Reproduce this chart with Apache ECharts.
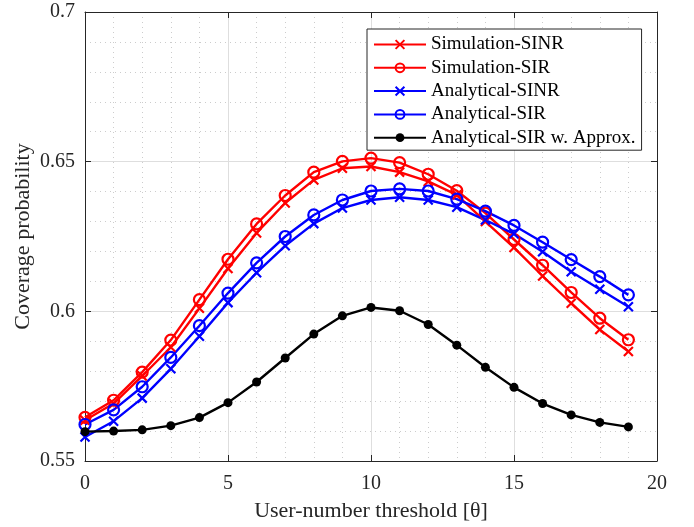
<!DOCTYPE html>
<html>
<head>
<meta charset="utf-8">
<script src="https://cdn.jsdelivr.net/npm/echarts@6/dist/echarts.min.js"></script>
<style>
  html, body { margin: 0; padding: 0; background: #fff; }
  #chart { width: 694px; height: 527px; }
</style>
</head>
<body>
<div id="chart"></div>
<script>
// user-number threshold values
const thresholds = [0, 1, 2, 3, 4, 5, 6, 7, 8, 9, 10, 11, 12, 13, 14, 15, 16, 17, 18, 19];

const simSINR = [0.5636, 0.5692, 0.5784, 0.5880, 0.6010, 0.6143, 0.6262, 0.6362, 0.6439, 0.6478,
  0.6484, 0.6465, 0.6434, 0.6389, 0.6300, 0.6213, 0.6118, 0.6027, 0.5939, 0.5866];
const simSIR = [0.5646, 0.5703, 0.5797, 0.5904, 0.6039, 0.6174, 0.6292, 0.6387, 0.6465, 0.6501,
  0.6512, 0.6497, 0.6458, 0.6403, 0.6328, 0.6240, 0.6154, 0.6063, 0.5977, 0.5905];
const anaSINR = [0.5580, 0.5633, 0.5710, 0.5808, 0.5917, 0.6029, 0.6129, 0.6219, 0.6293, 0.6345,
  0.6372, 0.6381, 0.6372, 0.6348, 0.6305, 0.6259, 0.6199, 0.6132, 0.6074, 0.6015];
const anaSIR = [0.5622, 0.5671, 0.5748, 0.5846, 0.5952, 0.6061, 0.6162, 0.6250, 0.6322, 0.6372,
  0.6402, 0.6409, 0.6402, 0.6375, 0.6335, 0.6287, 0.6231, 0.6173, 0.6116, 0.6055];
const anaSIRApprox = [0.5598, 0.5600, 0.5604, 0.5618, 0.5645, 0.5695, 0.5764, 0.5844, 0.5924, 0.5985,
  0.6013, 0.6002, 0.5956, 0.5887, 0.5813, 0.5746, 0.5692, 0.5654, 0.5629, 0.5614];

const font = "Liberation Serif";
const axisColor = "#262626";
const crossPath = "path://M0,0L10,10M10,0L0,10";

const pairs = (ys) => thresholds.map((x, i) => [x, ys[i]]);

const makeSeries = (name, ys, color, marker) => {
  const s = {
    name: name,
    type: "line",
    data: pairs(ys),
    lineStyle: { color: color, width: 2.4 },
    color: color,
  };
  if (marker === "cross") {
    s.symbol = crossPath;
    s.symbolSize = 9;
    s.itemStyle = { color: "rgba(0,0,0,0)", borderColor: color, borderWidth: 2.2 };
  } else if (marker === "circle") {
    s.symbol = "circle";
    s.symbolSize = 11;
    s.itemStyle = { color: "rgba(0,0,0,0)", borderColor: color, borderWidth: 2.2 };
  } else {
    s.symbol = "circle";
    s.symbolSize = 9;
    s.itemStyle = { color: color, borderWidth: 0 };
  }
  return s;
};

const sideAxis = (pos, min, max, interval) => ({
  type: "value",
  position: pos,
  min: min,
  max: max,
  interval: interval,
  axisLine: { show: true, onZero: false, lineStyle: { color: axisColor, width: 1 } },
  axisTick: { show: true, inside: true, length: 6, lineStyle: { color: axisColor } },
  axisLabel: { show: false },
  splitLine: { show: false },
});

const chart = echarts.init(document.getElementById("chart"));

chart.setOption({
  animation: false,
  backgroundColor: "#fff",
  textStyle: { fontFamily: font },
  grid: { left: 85, right: 37, top: 12, bottom: 64 },
  legend: {
    orient: "vertical",
    left: 367,
    top: 29,
    width: 275,
    padding: [6, 6, 3, 6],
    itemWidth: 52,
    itemHeight: 11,
    itemGap: 4.3,
    backgroundColor: "#fff",
    borderColor: axisColor,
    borderWidth: 1,
    borderRadius: 0,
    textStyle: { fontFamily: font, fontSize: 19, color: "#000", lineHeight: 19 },
  },
  xAxis: [
    {
      type: "value",
      min: 0,
      max: 20,
      interval: 5,
      name: "User-number threshold [θ]",
      nameLocation: "middle",
      nameGap: 39,
      nameMoveOverlap: false,
      nameTextStyle: { fontFamily: font, fontSize: 22, color: axisColor },
      axisLine: { show: true, onZero: false, lineStyle: { color: axisColor, width: 1 } },
      axisTick: { show: true, inside: true, length: 6, lineStyle: { color: axisColor } },
      axisLabel: { fontFamily: font, fontSize: 20, color: axisColor, margin: 13 },
      splitLine: { show: true, lineStyle: { color: "#dedede", width: 1 } },
      minorTick: { show: false, splitNumber: 5 },
      minorSplitLine: { show: true, lineStyle: { color: "#cccccc", width: 1, type: [1, 4] } },
    },
    sideAxis("top", 0, 20, 5),
  ],
  yAxis: [
    {
      type: "value",
      min: 0.55,
      max: 0.7,
      interval: 0.05,
      name: "Coverage probability",
      nameLocation: "middle",
      nameGap: 51,
      nameMoveOverlap: false,
      nameTextStyle: { fontFamily: font, fontSize: 22, color: axisColor },
      axisLine: { show: true, onZero: false, lineStyle: { color: axisColor, width: 1 } },
      axisTick: { show: true, inside: true, length: 6, lineStyle: { color: axisColor } },
      axisLabel: { fontFamily: font, fontSize: 20, color: axisColor, margin: 10 },
      splitLine: { show: true, lineStyle: { color: "#dedede", width: 1 } },
      minorTick: { show: false, splitNumber: 5 },
      minorSplitLine: { show: true, lineStyle: { color: "#cccccc", width: 1, type: [1, 4] } },
    },
    sideAxis("right", 0.55, 0.7, 0.05),
  ],
  series: [
    makeSeries("Simulation-SINR", simSINR, "#ff0000", "cross"),
    makeSeries("Simulation-SIR", simSIR, "#ff0000", "circle"),
    makeSeries("Analytical-SINR", anaSINR, "#0000ff", "cross"),
    makeSeries("Analytical-SIR", anaSIR, "#0000ff", "circle"),
    makeSeries("Analytical-SIR w. Approx.", anaSIRApprox, "#000000", "dot"),
  ],
});
</script>
</body>
</html>
